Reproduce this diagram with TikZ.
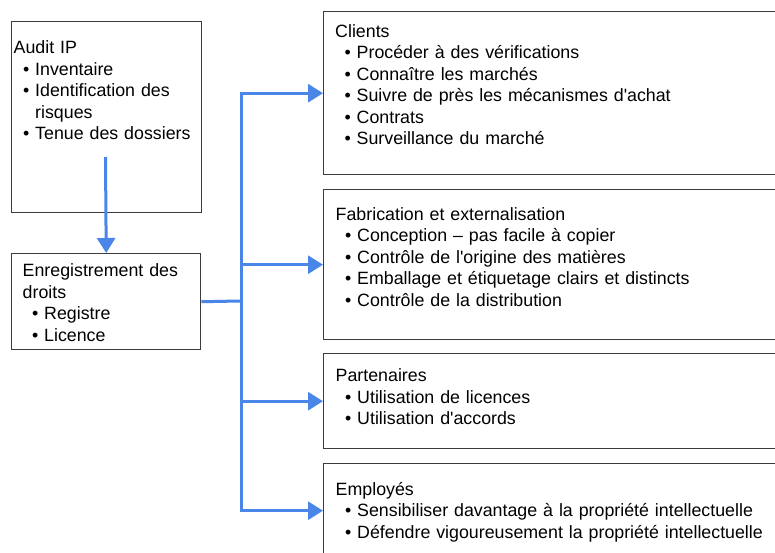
\documentclass[tikz,border=0pt]{standalone}
\usepackage{fontspec}
\setmainfont{Liberation Sans}
\usetikzlibrary{arrows.meta}
\definecolor{arrblue}{HTML}{4A86E8}
\definecolor{boxgray}{HTML}{3C3C3C}
\newcommand\itm{\hspace*{9.5pt}\makebox[12pt][l]{•}}
\newcommand\cont{\hspace*{21.5pt}}
\newcommand\apo{\textquotesingle}
\begin{document}
\begin{tikzpicture}[x=1pt,y=-1pt,
  panel/.style={draw=boxgray, line width=1.4pt, fill=white, inner sep=0pt, anchor=north west},
  txt/.style={anchor=base west, inner sep=0pt, text width=440pt, align=left,
    font={\fontsize{17.8}{21.5}\selectfont}},
  link/.style={draw=arrblue, line width=3pt},
  arr/.style={link, -{Triangle[length=15pt,width=18pt]}}]
\useasboundingbox (0,0) rectangle (775,553);
\fill[white] (0,0) rectangle (775,553);
\begin{scope}
\clip (0,0) rectangle (775,553);
% left boxes
\node[panel, minimum width=190pt, minimum height=191pt] (audit) at (11,21) {};
\node[panel, minimum width=189pt, minimum height=96pt] (enreg) at (11,253) {};
% right boxes
\node[panel, minimum width=470pt, minimum height=163pt] (clients) at (323,11) {};
\node[panel, minimum width=470pt, minimum height=150pt] (fabr) at (323,189) {};
\node[panel, minimum width=470pt, minimum height=95pt] (part) at (323,353) {};
\node[panel, minimum width=470pt, minimum height=94pt] (empl) at (323,463) {};
% texts
\node[txt] (tAudit) at (13.5,54) {Audit IP\\
  \itm Inventaire\\
  \itm Identification des\\
  \cont risques\\
  \itm Tenue des dossiers};
\node[txt] (tEnreg) at (22.5,276.5) {Enregistrement des\\
  droits\\
  \itm Registre\\
  \itm Licence};
\node[txt] (tClients) at (335,37.5) {Clients\\
  \itm Procéder à des vérifications\\
  \itm Connaître les marchés\\
  \itm Suivre de près les mécanismes d\apo achat\\
  \itm Contrats\\
  \itm Surveillance du marché};
\node[txt] (tFabr) at (335.5,220) {Fabrication et externalisation\\
  \itm Conception – pas facile à copier\\
  \itm Contrôle de l\apo origine des matières\\
  \itm Emballage et étiquetage clairs et distincts\\
  \itm Contrôle de la distribution};
\node[txt] (tPart) at (335.5,381.5) {Partenaires\\
  \itm Utilisation de licences\\
  \itm Utilisation d\apo accords};
\node[txt] (tEmpl) at (335.5,495) {Employés\\
  \itm Sensibiliser davantage à la propriété intellectuelle\\
  \itm Défendre vigoureusement la propriété intellectuelle};
% connectors
\coordinate (a0) at (105.5,157);
\coordinate (hub) at (241,301);
\draw[arr] (a0) -- (enreg.north);
\draw[link] (enreg.east) -- (hub);
\draw[arr] (hub) |- (clients.west);
\draw[arr] (hub) |- (fabr.west);
\draw[arr] (hub) |- (part.west);
\draw[arr] (hub) |- (empl.west);
\end{scope}
\end{tikzpicture}
\end{document}
